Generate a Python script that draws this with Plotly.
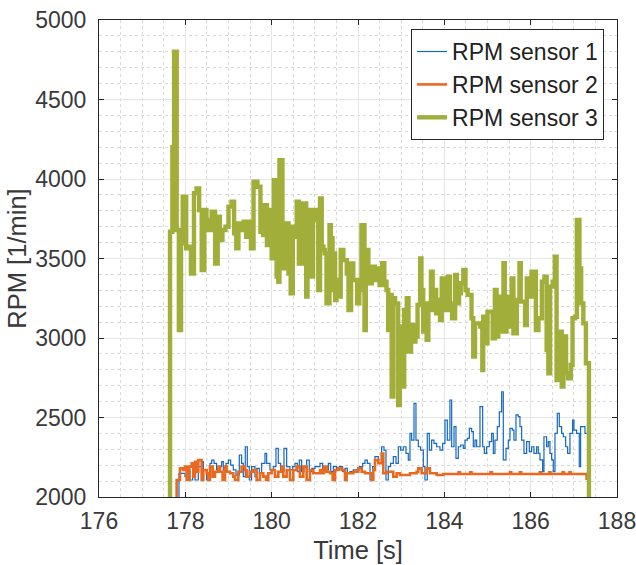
import plotly.graph_objects as go

# ---- RPM sensor 1 (stair samples: time [s], rpm [1/min]) ----
t_s1 = [177.853, 177.853, 177.992, 178.031, 178.108, 178.170, 178.224, 178.301, 178.378, 178.417,
        178.494, 178.571, 178.610, 178.664, 178.725, 178.787, 178.841, 178.880, 178.942, 178.996,
        179.050, 179.111, 179.173, 179.250, 179.304, 179.343, 179.389, 179.436, 179.482, 179.536,
        179.613, 179.652, 179.714, 179.768, 179.845, 179.884, 179.961, 180.038, 180.100, 180.154,
        180.208, 180.285, 180.347, 180.424, 180.486, 180.540, 180.594, 180.640, 180.694, 180.748,
        180.810, 180.871, 180.933, 181.003, 181.120, 181.181, 181.235, 181.313, 181.367, 181.428,
        181.506, 181.567, 181.645, 181.699, 181.753, 181.814, 181.892, 182.031, 182.108, 182.162,
        182.216, 182.278, 182.339, 182.393, 182.471, 182.548, 182.602, 182.648, 182.702, 182.756,
        182.818, 182.880, 182.934, 182.988, 183.050, 183.111, 183.165, 183.204, 183.243, 183.297,
        183.343, 183.397, 183.451, 183.513, 183.551, 183.605, 183.652, 183.706, 183.760, 183.822,
        183.899, 183.961, 184.015, 184.069, 184.130, 184.170, 184.224, 184.270, 184.324, 184.378,
        184.440, 184.478, 184.532, 184.579, 184.633, 184.671, 184.710, 184.749, 184.826, 184.888,
        184.926, 184.980, 185.042, 185.096, 185.135, 185.173, 185.227, 185.274, 185.328, 185.366,
        185.428, 185.482, 185.521, 185.575, 185.613, 185.660, 185.714, 185.752, 185.791, 185.845,
        185.907, 185.968, 186.022, 186.076, 186.138, 186.177, 186.215, 186.277, 186.308, 186.370,
        186.408, 186.447, 186.486, 186.524, 186.563, 186.617, 186.663, 186.717, 186.756, 186.810,
        186.856, 186.910, 186.972, 187.003, 187.065, 187.126, 187.157, 187.219, 187.258, 187.296]
rpm_s1 = [2000, 2149, 2128, 2170, 2107, 2170, 2107, 2191, 2222, 2170,
          2107, 2212, 2232, 2212, 2170, 2191, 2222, 2170, 2212, 2232,
          2201, 2170, 2138, 2264, 2212, 2128, 2316, 2191, 2107, 2191,
          2128, 2180, 2149, 2212, 2274, 2212, 2170, 2191, 2306, 2212,
          2159, 2306, 2191, 2170, 2191, 2212, 2159, 2232, 2159, 2191,
          2232, 2159, 2180, 2191, 2212, 2159, 2170, 2212, 2159, 2191,
          2170, 2191, 2159, 2180, 2149, 2159, 2170, 2191, 2212, 2232,
          2212, 2107, 2191, 2254, 2212, 2316, 2295, 2107, 2191, 2212,
          2254, 2212, 2316, 2295, 2316, 2274, 2232, 2400, 2358, 2589,
          2358, 2316, 2295, 2191, 2107, 2400, 2295, 2358, 2337, 2316,
          2295, 2337, 2484, 2358, 2610, 2316, 2442, 2243, 2316, 2327,
          2306, 2358, 2369, 2432, 2411, 2316, 2358, 2316, 2568, 2316,
          2274, 2316, 2348, 2400, 2274, 2358, 2442, 2536, 2662, 2233,
          2306, 2358, 2432, 2421, 2358, 2516, 2505, 2442, 2358, 2274,
          2348, 2285, 2316, 2274, 2316, 2274, 2233, 2159, 2379, 2316,
          2348, 2274, 2233, 2159, 2400, 2526, 2442, 2400, 2379, 2316,
          2274, 2400, 2484, 2421, 2400, 2191, 2442, 2442, 2400, 2400]

# ---- RPM sensor 2 ----
t_s2 = [177.799, 177.799, 177.876, 177.953, 177.992, 178.031, 178.092, 178.146, 178.185, 178.224,
        178.262, 178.301, 178.378, 178.417, 178.494, 178.532, 178.571, 178.633, 178.687, 178.764,
        178.803, 178.864, 178.918, 178.957, 179.034, 179.111, 179.150, 179.227, 179.304, 179.382,
        179.420, 179.497, 179.575, 179.652, 179.729, 179.806, 179.868, 179.922, 179.999, 180.076,
        180.154, 180.231, 180.269, 180.347, 180.424, 180.501, 180.578, 180.653, 180.733, 180.810,
        180.887, 180.964, 181.041, 181.120, 181.158, 181.212, 181.274, 181.351, 181.413, 181.467,
        181.544, 181.621, 181.699, 181.737, 181.892, 182.007, 182.085, 182.162, 182.316, 182.355,
        182.393, 182.471, 182.548, 182.586, 182.664, 182.818, 182.895, 182.972, 183.204, 183.358,
        183.397, 183.474, 183.590, 183.667, 183.822, 183.976, 184.330, 184.360, 184.600, 184.630,
        185.070, 185.100, 185.520, 185.550, 185.750, 185.780, 186.210, 186.240, 186.430, 186.460,
        186.740, 186.770, 186.900, 186.930, 187.296]
rpm_s2 = [2000, 2107, 2180, 2170, 2191, 2107, 2191, 2212, 2128, 2222,
          2159, 2232, 2107, 2170, 2149, 2107, 2191, 2128, 2159, 2191,
          2159, 2107, 2191, 2159, 2149, 2128, 2107, 2159, 2191, 2170,
          2128, 2159, 2170, 2107, 2149, 2128, 2107, 2149, 2170, 2128,
          2159, 2191, 2128, 2170, 2107, 2170, 2191, 2128, 2191, 2107,
          2170, 2149, 2149, 2170, 2149, 2191, 2159, 2149, 2107, 2170,
          2180, 2170, 2107, 2149, 2159, 2180, 2159, 2149, 2107, 2170,
          2232, 2212, 2274, 2149, 2159, 2128, 2149, 2138, 2149, 2159,
          2180, 2149, 2180, 2149, 2138, 2145, 2156, 2145, 2156, 2145,
          2156, 2145, 2156, 2145, 2156, 2145, 2156, 2145, 2156, 2145,
          2156, 2145, 2156, 2145, 2107]

# ---- RPM sensor 3 ----
t_s3 = [177.645, 177.645, 177.700, 177.740, 177.800, 177.850, 177.900, 177.940, 178.020, 178.070,
        178.130, 178.200, 178.260, 178.320, 178.380, 178.440, 178.490, 178.530, 178.610, 178.690,
        178.750, 178.800, 178.860, 178.930, 179.000, 179.070, 179.130, 179.180, 179.230, 179.290,
        179.350, 179.410, 179.460, 179.520, 179.580, 179.670, 179.740, 179.800, 179.840, 179.890,
        179.950, 180.000, 180.050, 180.115, 180.154, 180.180, 180.250, 180.310, 180.350, 180.390,
        180.440, 180.490, 180.540, 180.580, 180.630, 180.700, 180.730, 180.800, 180.830, 180.890,
        180.930, 180.960, 181.030, 181.080, 181.120, 181.160, 181.200, 181.230, 181.270, 181.340,
        181.370, 181.410, 181.440, 181.470, 181.500, 181.540, 181.600, 181.660, 181.740, 181.780,
        181.840, 181.890, 181.980, 182.030, 182.080, 182.150, 182.180, 182.240, 182.320, 182.390,
        182.470, 182.500, 182.560, 182.610, 182.660, 182.700, 182.740, 182.780, 182.820, 182.860,
        182.930, 182.970, 183.010, 183.070, 183.130, 183.170, 183.230, 183.280, 183.330, 183.380,
        183.440, 183.470, 183.510, 183.550, 183.590, 183.630, 183.690, 183.730, 183.770, 183.810,
        183.840, 183.900, 183.940, 183.980, 184.010, 184.080, 184.130, 184.180, 184.250, 184.290,
        184.340, 184.380, 184.440, 184.490, 184.540, 184.630, 184.670, 184.710, 184.830, 184.880,
        184.900, 184.940, 185.000, 185.120, 185.170, 185.210, 185.250, 185.300, 185.370, 185.400,
        185.440, 185.480, 185.560, 185.600, 185.680, 185.740, 185.770, 185.870, 185.910, 185.970,
        186.020, 186.120, 186.180, 186.260, 186.320, 186.370, 186.410, 186.450, 186.510, 186.560,
        186.600, 186.660, 186.720, 186.760, 186.820, 186.870, 186.930, 186.970, 187.030, 187.070,
        187.130, 187.170, 187.220, 187.280, 187.350]
rpm_s3 = [2000, 3668, 4200, 4800, 3679, 3050, 3595, 3889, 3564, 3574,
          3406, 3910, 3941, 3805, 3427, 3805, 3742, 3679, 3794, 3469,
          3763, 3616, 3679, 3700, 3826, 3857, 3658, 3564, 3721, 3679,
          3731, 3637, 3731, 3564, 3983, 3951, 3668, 3647, 3836, 3585,
          3805, 3501, 3993, 3386, 3354, 4119, 3438, 3574, 3721, 3406,
          3281, 3700, 3637, 3857, 3469, 3532, 3847, 3260, 3805, 3532,
          3386, 3805, 3742, 3302, 3878, 3574, 3553, 3532, 3218, 3710,
          3627, 3302, 3532, 3239, 3365, 3260, 3553, 3490, 3406, 3176,
          3469, 3365, 3218, 3302, 3710, 3050, 3553, 3344, 3448, 3365,
          3438, 3333, 3470, 3354, 3302, 3050, 3271, 2631, 3250, 3218,
          2579, 3072, 2694, 3176, 3250, 2914, 3082, 2977, 3009, 3208,
          3501, 3302, 3040, 3218, 2988, 3197, 3417, 3176, 3302, 3155,
          3239, 3113, 3375, 3218, 3176, 3386, 3218, 3124, 3396, 3218,
          3281, 3344, 3428, 3302, 3271, 3124, 2883, 3092, 3072, 2799,
          3134, 2967, 3166, 2998, 3302, 3009, 3260, 3040, 3470, 3040,
          3260, 3072, 3375, 3030, 3239, 3470, 3229, 3082, 3375, 3260,
          3417, 3050, 3124, 3354, 3386, 2925, 2778, 3323, 3354, 3512,
          2736, 3040, 2694, 3009, 2778, 2747, 2830, 3124, 3134, 3742,
          3438, 3218, 3092, 2841, 2000]

series_names = ["RPM sensor 1", "RPM sensor 2", "RPM sensor 3"]
x_ticks = [176, 178, 180, 182, 184, 186, 188]
y_ticks = [2000, 2500, 3000, 3500, 4000, 4500, 5000]

FONT = "Liberation Sans, Arial, Helvetica, sans-serif"
INK = "#262626"
TEXT = "#3a3a3a"

fig = go.Figure()
fig.add_trace(go.Scatter(x=t_s1, y=rpm_s1, mode="lines", name=series_names[0],
                         line=dict(color="#1469C0", width=1.2, shape="hv")))
fig.add_trace(go.Scatter(x=t_s2, y=rpm_s2, mode="lines", name=series_names[1],
                         line=dict(color="#E8691F", width=2.6, shape="hv")))
fig.add_trace(go.Scatter(x=t_s3, y=rpm_s3, mode="lines", name=series_names[2],
                         line=dict(color="#A1AF3A", width=4.4, shape="hv")))

axis_common = dict(
    showline=True, linecolor=INK, linewidth=1, mirror="ticks",
    ticks="inside", ticklen=5, tickcolor=INK, tickwidth=1,
    showgrid=True, gridcolor="#e6e6e6", gridwidth=1,
    zeroline=False, ticklabeloverflow="allow", automargin=False,
    tickfont=dict(family=FONT, size=23, color=TEXT),
)

fig.update_xaxes(
    range=[176, 188], tickvals=x_ticks, ticktext=[str(v) for v in x_ticks],
    ticklabelstandoff=3,
    title=dict(text="Time [s]", font=dict(family=FONT, size=25.5, color=TEXT), standoff=8),
    minor=dict(dtick=0.5, showgrid=True, gridcolor="#d9d9d9", griddash="dot", gridwidth=1, ticks=""),
    **axis_common,
)
fig.update_yaxes(
    range=[2000, 5000], tickvals=y_ticks, ticktext=[str(v) for v in y_ticks],
    ticklabelstandoff=7,
    title=dict(text="RPM [1/min]", font=dict(family=FONT, size=25.5, color=TEXT), standoff=1),
    minor=dict(dtick=100, showgrid=True, gridcolor="#d9d9d9", griddash="dot", gridwidth=1, ticks=""),
    **axis_common,
)

fig.update_layout(
    width=636, height=565,
    margin=dict(l=99, r=19, t=20, b=68),
    paper_bgcolor="white", plot_bgcolor="white",
    font=dict(family=FONT, color=TEXT),
    showlegend=True,
    legend=dict(
        x=0.975, xanchor="right", y=0.981, yanchor="top",
        bgcolor="white", bordercolor=INK, borderwidth=1,
        font=dict(family=FONT, size=23, color="#222222"),
        tracegroupgap=0, itemwidth=30,
    ),
)

fig.write_html("out.html")
